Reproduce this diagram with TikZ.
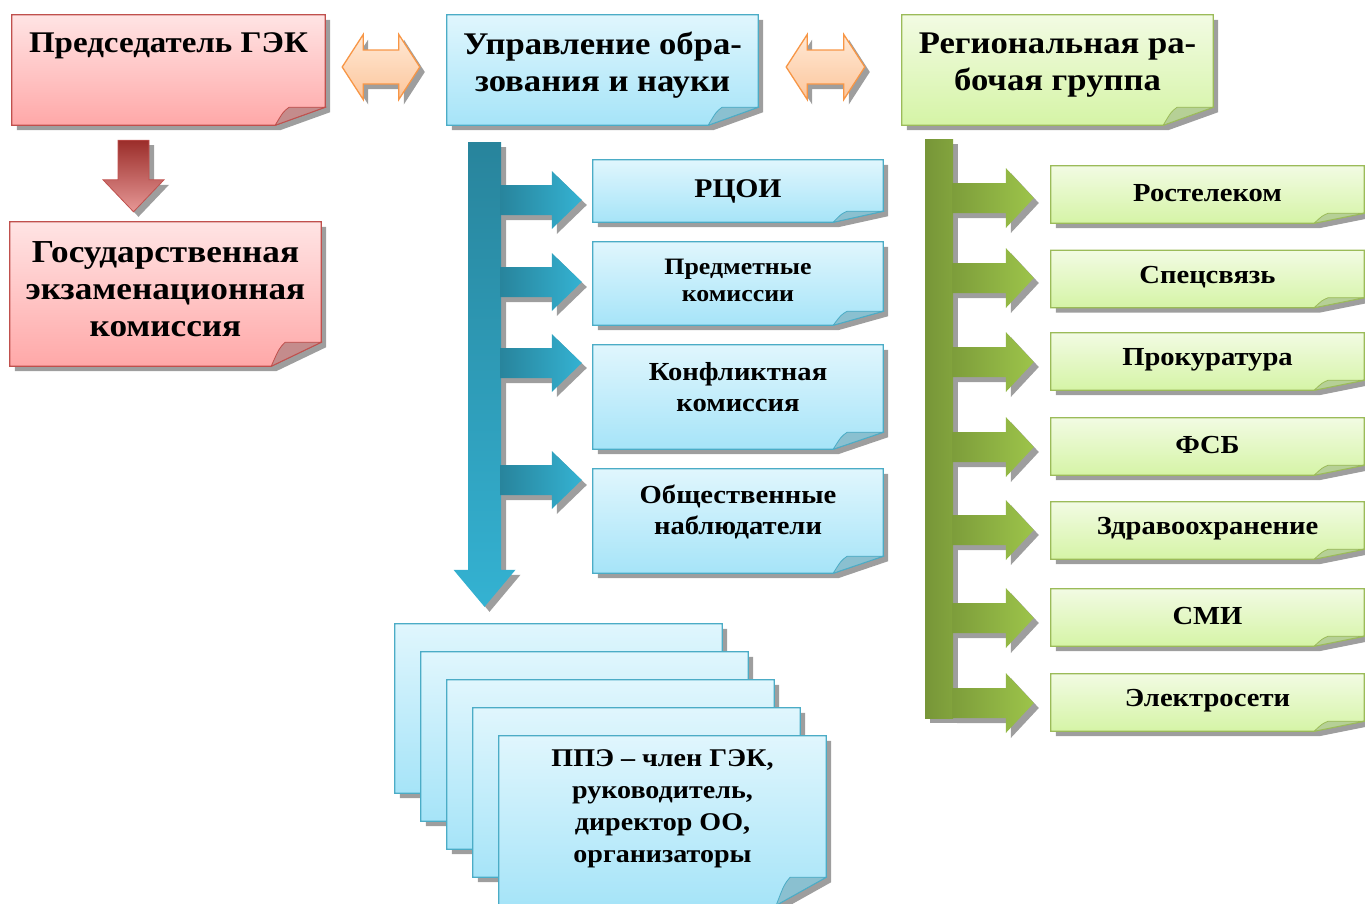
\documentclass[tikz,border=0pt]{standalone}
\usepackage{fontspec}
\setmainfont{Liberation Serif}[FakeStretch=1.1]
\usetikzlibrary{calc,shadows}
\pgfdeclarelayer{bg}
\pgfsetlayers{bg,main}

\definecolor{redtop}{RGB}{255,228,228}
\definecolor{redbot}{RGB}{255,168,168}
\definecolor{redline}{RGB}{192,80,77}
\definecolor{redfold}{RGB}{196,140,140}
\definecolor{bluetop}{RGB}{224,246,253}
\definecolor{bluebot}{RGB}{166,228,248}
\definecolor{blueline}{RGB}{75,172,198}
\definecolor{bluefold}{RGB}{138,192,208}
\definecolor{greentop}{RGB}{242,251,227}
\definecolor{greenbot}{RGB}{213,244,166}
\definecolor{greenline}{RGB}{155,187,89}
\definecolor{greenfold}{RGB}{182,208,150}
\definecolor{orangetop}{RGB}{255,232,212}
\definecolor{orangebot}{RGB}{252,198,156}
\definecolor{orangeline}{RGB}{247,150,70}
\definecolor{tealdark}{RGB}{40,132,156}
\definecolor{teallight}{RGB}{52,178,210}
\definecolor{olivedark}{RGB}{119,150,56}
\definecolor{olivelight}{RGB}{157,196,74}
\definecolor{maroon}{RGB}{155,45,42}
\definecolor{rose}{RGB}{230,152,150}

% paper sheet behind node #1, colour set #2, fold height #3
\newcommand\papercurl[3]{%
  \begin{pgfonlayer}{bg}
  \path[dropped, top color=#2top, bottom color=#2bot, draw=#2line, line width=1.3pt]
    (#1.north west) -- (#1.north east) -- ([yshift=#3]#1.south east)
    -- ([xshift=-50pt]#1.south east) -- (#1.south west) -- cycle;
  \path[fill=#2fold, draw=#2line, line width=0.8pt]
    ([xshift=-50pt]#1.south east) .. controls ([shift={(-42pt,#3*0.75)}]#1.south east) .. ([shift={(-36pt,#3)}]#1.south east)
    -- ([yshift=#3]#1.south east) -- cycle;
  \end{pgfonlayer}}
% right block arrow: style, tail, tip, shaft half, head half, head length
\newcommand\rblock[6]{%
  \path[#1] let \p1=(#2), \p2=(#3) in
    (\x1,\y1+#4) -- (\x2-#6,\y1+#4) -- (\x2-#6,\y1+#5) -- (\x2,\y1)
    -- (\x2-#6,\y1-#5) -- (\x2-#6,\y1-#4) -- (\x1,\y1-#4) -- cycle;}
% down block arrow: style, top, tip, shaft half, head half, head length
\newcommand\dblock[6]{%
  \path[#1] let \p1=(#2), \p2=(#3) in
    (\x1-#4,\y1) -- (\x1+#4,\y1) -- (\x1+#4,\y2+#6) -- (\x1+#5,\y2+#6) -- (\x1,\y2)
    -- (\x1-#5,\y2+#6) -- (\x1-#4,\y2+#6) -- cycle;}
% double block arrow: style, left tip, right tip, shaft half, head half, head length
\newcommand\hdouble[6]{%
  \path[#1] let \p1=(#2), \p2=(#3) in
    (\x1,\y1) -- (\x1+#6,\y1+#5) -- (\x1+#6,\y1+#4) -- (\x2-#6,\y1+#4) -- (\x2-#6,\y1+#5)
    -- (\x2,\y1) -- (\x2-#6,\y1-#5) -- (\x2-#6,\y1-#4) -- (\x1+#6,\y1-#4) -- (\x1+#6,\y1-#5) -- cycle;}

\begin{document}
\begin{tikzpicture}[x=1pt,y=-1pt,
  sheet/.style 2 args={minimum width=#1, minimum height=#2, inner sep=0pt},
  txt/.style 2 args={font=\bfseries\fontsize{#1}{#2}\selectfont, align=center, inner sep=0pt},
  dropped/.style={drop shadow={shadow xshift=5pt, shadow yshift=-5pt, fill=black!38, opacity=1}},
  swap/.style={dropped, top color=orangetop, bottom color=orangebot, draw=orangeline, line width=1.3pt},
  redarrow/.style={dropped, top color=maroon, bottom color=rose, draw=redline, line width=0.8pt},
  bluetrunk/.style={dropped, top color=tealdark, bottom color=teallight, draw=none},
  bluebranch/.style={dropped, left color=tealdark, right color=teallight, draw=none},
  greentrunk/.style={dropped, left color=olivedark, right color=olivedark!70!olivelight, draw=none},
  greenbranch/.style={dropped, left color=olivedark!85!olivelight, right color=olivelight, draw=none}]
\useasboundingbox (0,0) rectangle (1365,903);

%Sheets: top row
\node[sheet={313}{110}] (chair) at (168.5,70) {};
\node[sheet={311}{110}] (uprav) at (602.5,70) {};
\node[sheet={311}{110}] (rrg) at (1057.5,70) {};
\node[sheet={311}{144}] (gek) at (165.5,294) {};
%Sheets: blue column
\node[sheet={290}{62}] (rcoi) at (738,191) {};
\node[sheet={290}{83}] (predm) at (738,283.5) {};
\node[sheet={290}{104}] (konfl) at (738,397) {};
\node[sheet={290}{104}] (obsch) at (738,521) {};
%Sheets: stack of PPE
\foreach \i in {1,...,4}
  \node[sheet={327}{169}] (ppe\i) at ({558.5+26*(\i-1)},{708.5+28*(\i-1)}) {};
\node[sheet={327}{169}] (ppe) at (662.5,820.5) {};
%Sheets: green column
\foreach \n/\ypos in {rtk/194.5,spec/279,prok/361.5,fsb/446.5,zdrav/530.5,smi/617.5,elek/702.5}
  \node[sheet={313}{57}] (\n) at (1207.5,\ypos) {};

\papercurl{chair}{red}{18pt}
\papercurl{uprav}{blue}{18pt}
\papercurl{rrg}{green}{18pt}
\papercurl{gek}{red}{24pt}
\papercurl{rcoi}{blue}{11pt}
\papercurl{predm}{blue}{14pt}
\papercurl{konfl}{blue}{17pt}
\papercurl{obsch}{blue}{17pt}
\foreach \i in {1,...,4} {\papercurl{ppe\i}{blue}{28pt}}
\papercurl{ppe}{blue}{28pt}
\foreach \n in {rtk,spec,prok,fsb,zdrav,smi,elek} {\papercurl{\n}{green}{10pt}}

% Text Node
\node[txt={30pt}{37pt}] (chair-t) at ([yshift=24pt]chair.center) {Председатель ГЭК};
\node[txt={31.5pt}{37pt}] (uprav-t) at ([yshift=5pt]uprav.center) {Управление обра-\\зования и науки};
\node[txt={31.5pt}{37pt}] (rrg-t) at ([yshift=5pt]rrg.center) {Региональная ра-\\бочая группа};
\node[txt={32pt}{37pt}] (gek-t) at ([yshift=5pt]gek.center) {Государственная\\экзаменационная\\комиссия};
\node[txt={27pt}{32pt}] (rcoi-t) at (rcoi.center) {РЦОИ};
\node[txt={23.5pt}{27pt}] (predm-t) at ([yshift=3pt]predm.center) {Предметные\\комиссии};
\node[txt={26pt}{31pt}] (konfl-t) at ([yshift=10pt]konfl.center) {Конфликтная\\комиссия};
\node[txt={26pt}{31pt}] (obsch-t) at ([yshift=9.5pt]obsch.center) {Общественные\\наблюдатели};
\node[txt={25.5pt}{32pt}] (ppe-t) at ([yshift=11.5pt]ppe.center) {ППЭ – член ГЭК,\\руководитель,\\директор ОО,\\организаторы};
\foreach \n/\t in {rtk/Ростелеком,spec/Спецсвязь,prok/Прокуратура,fsb/ФСБ,zdrav/Здравоохранение,smi/СМИ,elek/Электросети}
  \node[txt={26pt}{28pt}] (\n-t) at ([yshift=1.5pt]\n.center) {\t};

%Double Arrows
\hdouble{swap}{[shift={(17pt,3pt)}]chair.east}{[shift={(-27pt,3pt)}]uprav.west}{17pt}{32.5pt}{21pt}
\hdouble{swap}{[shift={(28pt,3pt)}]uprav.east}{[shift={(-37pt,3pt)}]rrg.west}{17pt}{32.5pt}{21pt}
%Down Arrow
\dblock{redarrow}{[shift={(-35pt,-15pt)}]chair.south}{[shift={(-32pt,10pt)}]gek.north}{15.5pt}{30.5pt}{32pt}
%Blue trunk and branches
\dblock{bluetrunk}{[shift={(-118pt,-17pt)}]uprav.south}{[shift={(-74pt,17pt)}]ppe1.north}{16.5pt}{31pt}{37pt}
\foreach \b/\ypos in {rcoi/200,predm/282,konfl/363,obsch/480}
  {\rblock{bluebranch}{500,\ypos}{[xshift=-11pt]\b.west}{15pt}{29pt}{30pt}}
%Green trunk and branches
\path[greentrunk] (925,139) rectangle (953,718);
\foreach \b/\ypos in {rtk/198,spec/278,prok/362,fsb/447,zdrav/530,smi/618,elek/703}
  {\rblock{greenbranch}{952,\ypos}{[xshift=-17pt]\b.west}{15pt}{30pt}{28pt}}

\end{tikzpicture}
\end{document}
